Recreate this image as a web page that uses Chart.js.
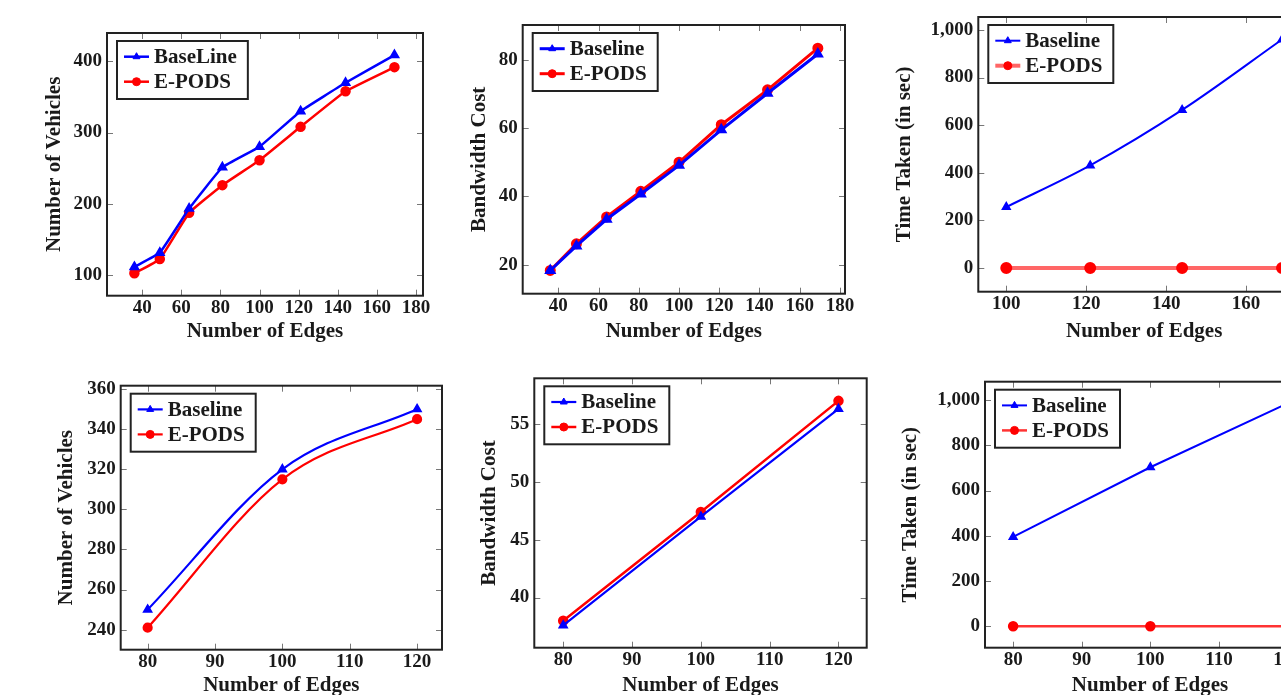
<!DOCTYPE html>
<html><head><meta charset="utf-8">
<script src="https://cdn.jsdelivr.net/npm/chart.js@4.4.1/dist/chart.umd.min.js"></script>
<style>
html,body{margin:0;padding:0;background:#fff;overflow:hidden;width:1281px;height:695px;position:relative}
canvas{position:absolute}
</style></head><body>
<canvas id="c1"></canvas><canvas id="c2"></canvas><canvas id="c3"></canvas>
<canvas id="c4"></canvas><canvas id="c5"></canvas><canvas id="c6"></canvas>
<script>
// ---------- data ----------
const edgesA = [36, 49, 64, 81, 100, 121, 144, 169];
const vehiclesBaselineA = [111, 131, 193, 251, 280, 330, 370, 409];
const vehiclesEpodsA = [102, 122, 187, 226, 261, 308, 358, 392];
const bandwidthBaselineA = [18.3, 25.5, 33.3, 40.7, 49.1, 59.5, 70.2, 81.7];
const bandwidthEpodsA = [18.3, 26.1, 34.0, 41.5, 50.0, 61.0, 71.2, 83.4];
const edgesTimeA = [100, 121, 144, 169];
const timeBaselineA = [256, 431, 664, 960];
const timeEpodsA = [0, 0, 0, 0];
const edgesB = [80, 100, 120];
const vehiclesBaselineB = [250, 320, 350];
const vehiclesEpodsB = [241, 315, 345];
const bandwidthBaselineB = [37.6, 47.0, 56.3];
const bandwidthEpodsB = [38.0, 47.4, 57.0];
const timeBaselineB = [395, 703, 985];
const timeEpodsB = [0, 0, 0];

const xTicksA = [40, 60, 80, 100, 120, 140, 160, 180];
const xTicksTimeA = [100, 120, 140, 160, 180];
const xTicksB = [80, 90, 100, 110, 120];
const yTicksVehA = [100, 200, 300, 400];
const yTicksBwA = [20, 40, 60, 80];
const yTicksTime = [0, 200, 400, 600, 800, 1000];
const yTicksVehB = [240, 260, 280, 300, 320, 340, 360];
const yTicksBwB = [40, 45, 50, 55];

const xTitle = 'Number of Edges';
const yTitleVeh = 'Number of Vehicles';
const yTitleBw = 'Bandwidth Cost';
const yTitleTime = 'Time Taken (in sec)';
const labelBaseLine = 'BaseLine';
const labelBaseline = 'Baseline';
const labelEpods = 'E-PODS';

// ---------- styling ----------
const FAMILY = '"Liberation Serif", "Times New Roman", serif';
const TXT = '#1a1a1a';
const tickFont = {family: FAMILY, size: 19, weight: 'bold', lineHeight: 1.1};
const titleFont = {family: FAMILY, size: 21, weight: 'bold', lineHeight: 1.2};
const fmt = v => Number(v).toLocaleString('en-US');

function blueSeries(label, xs, ys, w) {
  return {label, data: xs.map((x, i) => ({x, y: ys[i]})),
    borderColor: '#0000ff', backgroundColor: '#0000ff',
    pointBackgroundColor: '#0000ff', pointBorderColor: '#0000ff',
    pointStyle: 'triangle', pointRadius: 4, borderWidth: w};
}
function redSeries(label, xs, ys, w, lineColor) {
  return {label, data: xs.map((x, i) => ({x, y: ys[i]})),
    borderColor: lineColor || '#ff0000', backgroundColor: '#ff0000',
    pointBackgroundColor: '#ff0000', pointBorderColor: '#ff0000',
    pointStyle: 'circle', pointRadius: 4, borderWidth: w};
}

const framePlugin = {
  id: 'frame',
  afterDatasetsDraw(chart) {
    const {ctx, chartArea: a, scales: {x, y}} = chart;
    ctx.save();
    ctx.strokeStyle = '#777'; ctx.lineWidth = 1;
    const tl = 6;
    ctx.beginPath();
    x.ticks.forEach(t => {
      const px = Math.round(x.getPixelForValue(t.value)) + 0.5;
      ctx.moveTo(px, a.bottom); ctx.lineTo(px, a.bottom - tl);
      ctx.moveTo(px, a.top); ctx.lineTo(px, a.top + tl);
    });
    y.ticks.forEach(t => {
      const py = Math.round(y.getPixelForValue(t.value)) + 0.5;
      ctx.moveTo(a.left, py); ctx.lineTo(a.left + tl, py);
      ctx.moveTo(a.right, py); ctx.lineTo(a.right - tl, py);
    });
    ctx.stroke();
    ctx.strokeStyle = '#222'; ctx.lineWidth = 2;
    ctx.strokeRect(a.left, a.top, a.right - a.left, a.bottom - a.top);
    ctx.restore();
  },
  afterDraw(chart) {
    const {ctx, chartArea: a} = chart;
    const ds = chart.data.datasets;
    ctx.save();
    ctx.font = 'bold 21px ' + FAMILY;
    const tw = Math.max(...ds.map(d => ctx.measureText(d.label).width));
    const bx = a.left + 10, by = a.top + 8, bw = 37 + tw + 11, bh = 58;
    ctx.fillStyle = '#fff'; ctx.fillRect(bx, by, bw, bh);
    ctx.strokeStyle = '#222'; ctx.lineWidth = 2; ctx.strokeRect(bx, by, bw, bh);
    ds.forEach((d, i) => {
      const cy = by + 15.7 + 25 * i;
      ctx.strokeStyle = d.borderColor; ctx.lineWidth = d.borderWidth;
      ctx.beginPath(); ctx.moveTo(bx + 7, cy); ctx.lineTo(bx + 32, cy); ctx.stroke();
      ctx.fillStyle = d.pointBackgroundColor; ctx.strokeStyle = d.pointBorderColor; ctx.lineWidth = 1;
      Chart.helpers.drawPoint(ctx, {pointStyle: d.pointStyle, radius: d.pointRadius, rotation: 0, borderWidth: 1}, bx + 19.5, cy);
      ctx.fillStyle = TXT; ctx.textBaseline = 'middle'; ctx.textAlign = 'left';
      ctx.fillText(d.label, bx + 37, cy + 1);
    });
    ctx.restore();
  }
};

function panel(id, g, datasets, xTicks, yTicks, yTitle, tension, mono) {
  const lh = titleFont.size * titleFont.lineHeight;
  const padT = 20, padR = 25;
  const cl = Math.round(g.Yt - lh / 2), ct = Math.round(g.T - padT);
  const Wy = g.L - cl;
  const Hx = g.Xt - g.B + lh / 2;
  const cw = Math.round(g.R + padR - cl);
  const ch = Math.round(g.B + Hx - ct);
  const cv = document.getElementById(id);
  cv.style.left = cl + 'px'; cv.style.top = ct + 'px';
  cv.width = cw; cv.height = ch;
  cv.style.width = cw + 'px'; cv.style.height = ch + 'px';
  const padTop = g.T - ct;
  const padRight = cw - (g.R - cl);
  new Chart(cv, {
    type: 'line',
    data: {datasets: datasets.map(d => Object.assign({tension: tension || 0, fill: false,
      cubicInterpolationMode: mono ? 'monotone' : 'default'}, d))},
    options: {
      responsive: false, animation: false, devicePixelRatio: 1,
      layout: {padding: {left: 0, top: padTop, right: padRight, bottom: 0}},
      plugins: {legend: {display: false}, tooltip: {enabled: false}},
      scales: {
        x: {type: 'linear', bounds: 'data', min: g.xmin, max: g.xmax,
          afterBuildTicks: s => { s.ticks = xTicks.filter(v => v >= g.xmin && v <= g.xmax).map(v => ({value: v})); },
          afterFit: s => { s.height = Hx; },
          grid: {display: false, drawTicks: false}, border: {display: false},
          ticks: {font: tickFont, color: TXT, padding: 2, maxRotation: 0, autoSkip: false, callback: v => fmt(v)},
          title: {display: true, text: xTitle, font: titleFont, color: TXT, padding: 0}},
        y: {type: 'linear', bounds: 'data', min: g.ymin, max: g.ymax,
          afterBuildTicks: s => { s.ticks = yTicks.filter(v => v >= g.ymin && v <= g.ymax).map(v => ({value: v})); },
          afterFit: s => { s.width = Wy; },
          grid: {display: false, drawTicks: false}, border: {display: false},
          ticks: {font: tickFont, color: TXT, padding: 5, autoSkip: false, callback: v => fmt(v)},
          title: {display: true, text: yTitle, font: titleFont, color: TXT, padding: 0}}
      }
    },
    plugins: [framePlugin]
  });
}

panel('c1', {L: 107, T: 33, R: 423, B: 296, Yt: 55, Xt: 331.7, xmin: 22, xmax: 183.6, ymin: 70.5, ymax: 440},
  [blueSeries(labelBaseLine, edgesA, vehiclesBaselineA, 2.5), redSeries(labelEpods, edgesA, vehiclesEpodsA, 2.5)],
  xTicksA, yTicksVehA, yTitleVeh, 0.1);
panel('c2', {L: 522.7, T: 25, R: 845, B: 294, Yt: 480, Xt: 331.7, xmin: 22.3, xmax: 182.5, ymin: 11.5, ymax: 90.2},
  [blueSeries(labelBaseline, edgesA, bandwidthBaselineA, 3), redSeries(labelEpods, edgesA, bandwidthEpodsA, 3)],
  xTicksA, yTicksBwA, yTitleBw, 0);
panel('c3', {L: 978.3, T: 17, R: 1310, B: 292, Yt: 905, Xt: 331.7, xmin: 93, xmax: 176, ymin: -99.5, ymax: 1054.5},
  [blueSeries(labelBaseline, edgesTimeA, timeBaselineA, 2), redSeries(labelEpods, edgesTimeA, timeEpodsA, 4, 'rgba(255,0,0,0.6)')],
  xTicksTimeA, yTicksTime, yTitleTime, 0.4, true);
panel('c4', {L: 120.7, T: 385.7, R: 442, B: 649.3, Yt: 66.7, Xt: 685, xmin: 76, xmax: 123.7, ymin: 230, ymax: 361.7},
  [blueSeries(labelBaseline, edgesB, vehiclesBaselineB, 2.2), redSeries(labelEpods, edgesB, vehiclesEpodsB, 2.2)],
  xTicksB, yTicksVehB, yTitleVeh, 0.4, true);
panel('c5', {L: 534.3, T: 378.3, R: 866.7, B: 647.3, Yt: 489.2, Xt: 685, xmin: 75.8, xmax: 124.1, ymin: 35.67, ymax: 58.95},
  [blueSeries(labelBaseline, edgesB, bandwidthBaselineB, 2.2), redSeries(labelEpods, edgesB, bandwidthEpodsB, 2.5)],
  xTicksB, yTicksBwB, yTitleBw, 0);
panel('c6', {L: 985, T: 381.7, R: 1315, B: 647.3, Yt: 910.8, Xt: 685, xmin: 75.9, xmax: 124, ymin: -94.5, ymax: 1081},
  [blueSeries(labelBaseline, edgesB, timeBaselineB, 2), redSeries(labelEpods, edgesB, timeEpodsB, 2.5, 'rgba(255,0,0,0.8)')],
  xTicksB, yTicksTime, yTitleTime, 0);
</script>
</body></html>
